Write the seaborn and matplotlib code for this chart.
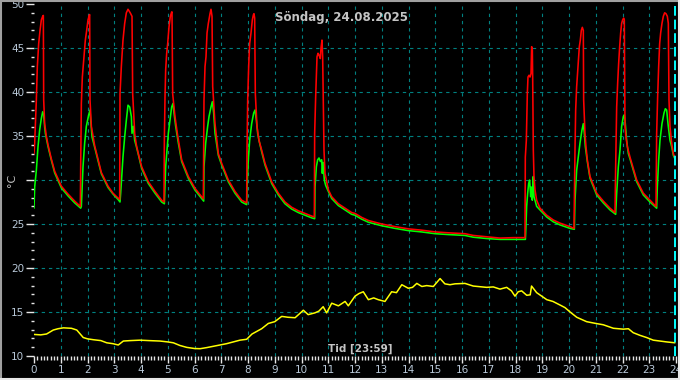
import matplotlib
matplotlib.use("Agg")
import matplotlib.pyplot as plt
from matplotlib.ticker import MultipleLocator
from matplotlib.lines import Line2D
import seaborn as sns

# red sensor (hours, °C)
red_t = [0.0, 0.025, 0.088, 0.125, 0.175, 0.225, 0.275, 0.324, 0.349, 0.362, 0.399, 0.461, 0.524, 0.648, 0.773,
         1.022, 1.271, 1.521, 1.732,
         1.745, 1.77, 1.807, 1.87, 1.919, 1.969, 2.019, 2.069, 2.081, 2.094, 2.144, 2.268, 2.393, 2.518, 2.767,
         2.954, 3.14, 3.203,
         3.215, 3.265, 3.327, 3.39, 3.452, 3.514, 3.577, 3.614, 3.664, 3.689, 3.764, 3.826, 3.9, 4.025, 4.274,
         4.524, 4.773, 4.86,
         4.873, 4.898, 4.922, 4.96, 4.997, 5.047, 5.097, 5.147, 5.159, 5.184, 5.271, 5.358, 5.52, 5.77, 6.019,
         6.268, 6.33,
         6.343, 6.355, 6.393, 6.43, 6.468, 6.517, 6.58, 6.617, 6.655, 6.68, 6.767, 6.891, 7.016, 7.265, 7.514,
         7.764, 7.888, 7.95,
         7.963, 7.988, 8.025, 8.062, 8.112, 8.162, 8.2, 8.224, 8.249, 8.274, 8.336, 8.411, 8.511, 8.636, 8.885,
         9.134, 9.383, 9.633, 9.882, 10.131, 10.38, 10.48,
         10.492, 10.53, 10.555, 10.58, 10.617, 10.654, 10.704, 10.729, 10.766, 10.791, 10.816, 10.841, 10.879,
         10.941, 11.003, 11.128, 11.377, 11.626, 11.876, 12.0, 12.25, 12.5, 13.0, 13.5, 13.99, 14.49, 14.99,
         15.49, 16.11, 16.42, 16.92, 17.42, 17.92, 18.355,
         18.367, 18.405, 18.442, 18.467, 18.505, 18.542, 18.58, 18.604, 18.629, 18.642, 18.666, 18.691, 18.729,
         18.791, 18.916, 19.165, 19.414, 19.663, 20.037, 20.187,
         20.2, 20.224, 20.249, 20.286, 20.336, 20.386, 20.423, 20.461, 20.498, 20.535, 20.548, 20.598, 20.635,
         20.685, 20.785, 21.034, 21.283, 21.533, 21.72,
         21.744, 21.782, 21.819, 21.856, 21.894, 21.931, 21.968, 22.006, 22.043, 22.068, 22.093, 22.13, 22.18,
         22.28, 22.53, 22.778, 23.028, 23.252,
         23.277, 23.314, 23.352, 23.389, 23.426, 23.476, 23.526, 23.576, 23.626, 23.676, 23.713, 23.738, 23.775,
         23.838, 23.9, 23.962]
red_v = [33.0, 34.2, 39.1, 42.9, 45.5, 47.0, 48.2, 48.6, 48.7, 39.1, 36.4, 35.0, 34.0, 32.4, 31.0,
         29.3, 28.4, 27.6, 27.0,
         31.5, 38.7, 41.7, 44.0, 45.9, 47.0, 48.2, 48.75, 48.8, 39.1, 36.1, 33.9, 32.4, 30.85, 29.3,
         28.5, 27.95, 27.8,
         39.8, 42.9, 45.9, 47.8, 49.0, 49.4, 49.1, 48.9, 48.6, 39.8, 35.3, 34.0, 33.0, 31.5, 29.8,
         28.7, 27.7, 27.5,
         34.5, 39.5, 42.5, 44.4, 45.5, 47.4, 48.6, 49.1, 49.1, 39.8, 37.2, 35.3, 32.3, 30.4, 29.05,
         28.1, 27.85,
         34.2, 39.1, 42.9, 44.0, 46.7, 47.8, 48.9, 49.4, 48.6, 40.6, 36.4, 33.0, 31.9, 30.0, 28.7,
         27.7, 27.5, 27.4,
         33.4, 39.1, 42.9, 45.5, 46.7, 48.2, 48.75, 48.9, 48.4, 39.8, 36.1, 34.5, 33.4, 31.9, 29.8,
         28.5, 27.5, 26.9, 26.5, 26.2, 25.9, 25.8,
         35.3, 39.5, 41.7, 44.0, 44.4, 44.2, 43.8, 45.0, 45.9, 44.0, 39.1, 33.4, 30.75,
         29.8, 28.9, 28.1, 27.3, 26.8, 26.3, 26.2, 25.75, 25.4, 25.0, 24.7, 24.45, 24.3, 24.1,
         24.0, 23.9, 23.7, 23.55, 23.4, 23.45, 23.45,
         32.6, 34.5, 39.8, 41.7, 41.9, 41.7, 42.1, 45.15, 44.8, 41.7, 33.4, 30.4, 28.9,
         27.7, 26.8, 26.0, 25.45, 25.1, 24.7, 24.5,
         27.7, 33.4, 37.95, 40.6, 42.9, 45.15, 45.9, 47.0, 47.35, 47.0, 39.1, 35.3, 33.8,
         32.3, 30.4, 28.5, 27.6, 26.8, 26.3,
         31.5, 38.3, 41.0, 43.25, 45.15, 46.7, 47.8, 48.2, 48.4, 48.2, 36.1, 34.9, 33.8,
         32.6, 30.0, 28.5, 27.7, 27.0,
         35.3, 39.5, 42.9, 45.5, 46.7, 47.8, 48.6, 49.0, 48.9, 48.6, 47.8, 39.1, 36.1,
         34.2, 33.0, 32.5]

# green sensor (hours, °C)
green_t = [0.0, 0.025, 0.088, 0.15, 0.212, 0.275, 0.324, 0.362, 0.399, 0.424, 0.524, 0.648, 0.773, 1.022,
           1.271, 1.521, 1.745,
           1.77, 1.832, 1.894, 1.957, 2.044, 2.094, 2.119, 2.169, 2.268, 2.393, 2.518, 2.767, 2.954, 3.14, 3.215,
           3.24, 3.327, 3.39, 3.452, 3.514, 3.577, 3.64, 3.664, 3.714, 3.764, 3.826, 3.9, 4.025, 4.274, 4.524,
           4.773, 4.873,
           4.922, 4.972, 5.022, 5.084, 5.147, 5.197, 5.234, 5.296, 5.396, 5.52, 5.77, 6.019, 6.268, 6.343,
           6.355, 6.418, 6.492, 6.542, 6.617, 6.667, 6.717, 6.767, 6.891, 7.016, 7.265, 7.514, 7.764, 7.95,
           7.963, 8.012, 8.062, 8.137, 8.212, 8.262, 8.312, 8.361, 8.411, 8.511, 8.636, 8.885, 9.134, 9.383,
           9.633, 9.882, 10.131, 10.38, 10.492,
           10.505, 10.555, 10.604, 10.654, 10.704, 10.754, 10.779, 10.804, 10.829, 10.853, 10.903, 11.003,
           11.128, 11.377, 11.626, 11.876, 12.0, 12.25, 12.5, 13.0, 13.5, 13.99, 14.49, 14.99, 15.49, 16.11,
           16.42, 16.92, 17.42, 17.92, 18.37,
           18.38, 18.417, 18.455, 18.492, 18.529, 18.567, 18.592, 18.629, 18.666, 18.691, 18.729, 18.791,
           18.916, 19.165, 19.414, 19.663, 20.037, 20.2,
           20.224, 20.286, 20.349, 20.411, 20.486, 20.535, 20.573, 20.61, 20.685, 20.785, 21.034, 21.283,
           21.533, 21.744,
           21.782, 21.844, 21.906, 21.968, 22.031, 22.068, 22.106, 22.155, 22.218, 22.28, 22.53, 22.778,
           23.028, 23.277,
           23.302, 23.352, 23.401, 23.476, 23.551, 23.601, 23.651, 23.701, 23.775, 23.838, 23.9, 23.962]
green_v = [26.8, 29.2, 31.1, 33.8, 35.7, 37.0, 37.75, 37.4, 36.0, 35.3, 33.8, 32.25, 30.8, 29.1,
           28.2, 27.4, 26.8,
           27.0, 31.5, 34.2, 36.1, 37.4, 37.95, 36.8, 34.9, 33.7, 32.2, 30.7, 29.15, 28.4, 27.8, 27.5,
           28.5, 32.65, 34.9, 36.8, 38.5, 38.3, 37.2, 35.3, 36.1, 34.5, 33.8, 32.9, 31.3, 29.6, 28.5,
           27.5, 27.3,
           31.5, 33.4, 35.3, 36.8, 38.3, 38.7, 37.6, 36.1, 34.2, 32.1, 30.2, 28.85, 27.9, 27.6,
           31.5, 34.2, 36.1, 37.2, 38.3, 38.9, 37.6, 35.3, 32.8, 31.7, 29.8, 28.5, 27.5, 27.2,
           29.2, 32.3, 34.5, 36.4, 37.6, 37.95, 36.8, 35.3, 34.5, 33.2, 31.7, 29.6, 28.3, 27.3,
           26.7, 26.3, 26.0, 25.7, 25.6,
           29.2, 31.5, 32.3, 32.5, 32.1, 32.3, 30.75, 32.0, 31.1, 30.0, 29.4, 28.7,
           27.9, 27.1, 26.6, 26.1, 26.0, 25.55, 25.2, 24.8, 24.5, 24.25, 24.1, 23.9, 23.8, 23.7,
           23.5, 23.35, 23.25, 23.25, 23.25,
           23.9, 27.0, 28.5, 29.6, 30.0, 28.1, 29.2, 27.7, 30.4, 28.1, 27.7, 27.0,
           26.6, 25.8, 25.25, 24.9, 24.5, 24.4,
           27.7, 31.1, 32.65, 34.2, 35.7, 36.4, 35.3, 33.8, 32.1, 30.2, 28.3, 27.4,
           26.6, 26.1,
           28.5, 31.5, 33.4, 36.1, 37.2, 37.4, 36.4, 34.5, 33.0, 32.4, 29.8, 28.3,
           27.5, 26.8,
           29.2, 32.3, 34.5, 36.4, 37.6, 38.1, 37.95, 36.4, 34.5, 33.8, 32.8, 32.4]

# outdoor (yellow)
out_t = [0.0, 0.25, 0.47, 0.72, 0.9, 1.1, 1.4, 1.6, 1.84, 2.0, 2.22, 2.5, 2.72, 2.95, 3.15, 3.34, 3.6, 3.96,
         4.3, 4.71, 5.0, 5.21, 5.45, 5.71, 6.0, 6.21, 6.45, 6.7, 6.95, 7.2, 7.45, 7.7, 7.95, 8.15, 8.51, 8.76,
         9.0, 9.26, 9.5, 9.76, 10.07, 10.25, 10.5, 10.65, 10.81, 10.94, 11.13, 11.38, 11.63, 11.75, 12.0,
         12.15, 12.31, 12.5, 12.7, 12.87, 13.12, 13.37, 13.55, 13.75, 13.99, 14.15, 14.31, 14.5, 14.68,
         14.93, 15.18, 15.36, 15.55, 15.74, 16.11, 16.42, 16.92, 17.17, 17.42, 17.67, 17.85, 17.98, 18.1,
         18.23, 18.42, 18.55, 18.6, 18.79, 19.17, 19.4, 19.66, 19.85, 20.04, 20.29, 20.66, 21.0, 21.28,
         21.66, 22.03, 22.22, 22.4, 22.65, 22.9, 23.15, 23.4, 23.65, 23.96]
out_v = [12.45, 12.4, 12.5, 12.95, 13.1, 13.2, 13.15, 12.95, 12.1, 11.95, 11.85, 11.75, 11.5, 11.4, 11.25,
         11.7, 11.75, 11.8, 11.75, 11.7, 11.6, 11.5, 11.2, 10.98, 10.85, 10.83, 10.95, 11.1, 11.25, 11.4,
         11.6, 11.8, 11.9, 12.5, 13.1, 13.7, 13.9, 14.5, 14.4, 14.35, 15.2, 14.7, 14.9, 15.1, 15.6, 14.9,
         16.0, 15.7, 16.2, 15.7, 16.8, 17.1, 17.3, 16.4, 16.6, 16.4, 16.2, 17.3, 17.2, 18.1, 17.7, 17.8,
         18.25, 17.9, 18.0, 17.9, 18.8, 18.2, 18.1, 18.2, 18.25, 17.95, 17.8, 17.85, 17.6, 17.8, 17.4,
         16.8, 17.3, 17.4, 16.9, 16.95, 17.95, 17.2, 16.4, 16.2, 15.8, 15.5, 15.0, 14.4, 13.9, 13.7,
         13.55, 13.15, 13.05, 13.1, 12.65, 12.35, 12.1, 11.8, 11.7, 11.6, 11.5]

y_ticks = [10, 15, 20, 25, 30, 35, 40, 45, 50]
y_labels = ["10", "15", "20", "25", "", "35", "40", "45", "50"]   # unit sits where 30 would be

TITLE = "Söndag, 24.08.2025"
NOW_LABEL = "Tid [23:59]"
NOW_HOUR = 23.98

GRID = "#008080"
LABEL = "#b8c8d8"
TEXT = "#c4c4c4"

sns.set_theme(style="ticks", rc={
    "figure.facecolor": "black",
    "axes.facecolor": "black",
    "axes.edgecolor": "black",
    "savefig.facecolor": "black",
})
plt.rcParams["font.family"] = ["DejaVu Sans"]

fig = plt.figure(figsize=(6.8, 3.8), dpi=100)
ax = fig.add_axes([34 / 680, 24 / 380, 642 / 680, 352 / 380])

# dashed grid, skipping the frame edges
for h in range(1, 24):
    ax.axvline(h, color=GRID, ls=(0, (3, 3.5)), lw=0.8, zorder=1)
for v in range(15, 50, 5):
    ax.axhline(v, color=GRID, ls=(0, (3, 3.5)), lw=0.8, zorder=1)

sns.lineplot(x=out_t, y=out_v, color="#ffff00", lw=1.1, estimator=None, ax=ax, zorder=3)
sns.lineplot(x=green_t, y=green_v, color="#00ff00", lw=1.15, estimator=None, ax=ax, zorder=3)
sns.lineplot(x=red_t, y=red_v, color="#ff0000", lw=1.15, estimator=None, ax=ax, zorder=4)

ax.axvline(NOW_HOUR, color="#00ffff", ls=(0, (5, 2)), lw=1.4, zorder=5)

ax.set_xlim(0, 24)
ax.set_ylim(10, 50)
ax.set_xticks(range(0, 25))
ax.set_yticks(y_ticks)
ax.set_yticklabels(y_labels)
ax.xaxis.set_minor_locator(MultipleLocator(0.125))
ax.yaxis.set_minor_locator(MultipleLocator(1))
ax.tick_params(axis="both", which="both", direction="out", color="#e6e6e6", width=1,
               labelcolor=LABEL, labelsize=7.5)
ax.tick_params(axis="y", which="major", length=6, pad=1)
ax.tick_params(axis="y", which="minor", length=2.5)
ax.tick_params(axis="x", which="major", length=5, pad=1.5)
ax.tick_params(axis="x", which="minor", length=3)
for s in ax.spines.values():
    s.set_visible(False)

ax.set_xlabel("")
ax.set_ylabel("")
fig.text(12 / 680, 1 - 180 / 380, "°C", rotation=90, ha="center", va="center",
         color=TEXT, fontsize=8)

fig.text(341.7 / 680, 1 - 18 / 380, TITLE, ha="center", va="center",
         color=TEXT, fontsize=8.5, fontweight="bold")
fig.text(360 / 680, 1 - 349 / 380, NOW_LABEL, ha="center", va="center",
         color=TEXT, fontsize=7.5, fontweight="bold")

# window frame
fig.add_artist(Line2D([0, 1], [1 - 1 / 380] * 2, transform=fig.transFigure, color="#a0a0a0", lw=1.5))
fig.add_artist(Line2D([1 / 680] * 2, [0, 1], transform=fig.transFigure, color="#a0a0a0", lw=1.5))
fig.add_artist(Line2D([0, 1], [1 / 380] * 2, transform=fig.transFigure, color="#e8e8e8", lw=1.5))
fig.add_artist(Line2D([1 - 1 / 680] * 2, [0, 1], transform=fig.transFigure, color="#e8e8e8", lw=1.5))

fig.savefig("out.png", dpi=100)
